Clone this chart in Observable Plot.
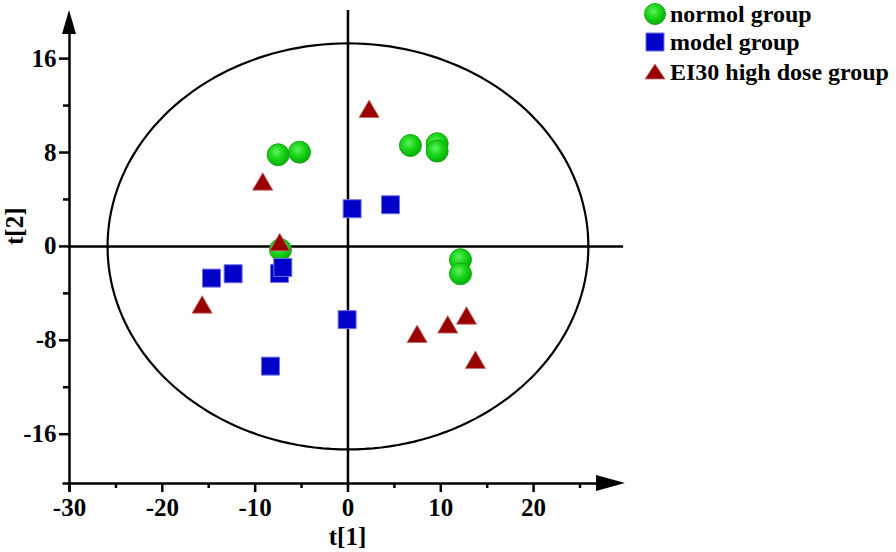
<!DOCTYPE html>
<html>
<head>
<meta charset="utf-8">
<script src="https://cdn.jsdelivr.net/npm/d3@7"></script>
<script src="https://cdn.jsdelivr.net/npm/@observablehq/plot@0.6"></script>
<style>
  html, body { margin: 0; padding: 0; background: #fff; }
  #wrap { position: relative; width: 896px; height: 552px; font-family: "Liberation Serif", "Times New Roman", serif; }
  #legend { position: absolute; left: 0; top: 0; }
</style>
</head>
<body>
<svg width="0" height="0" style="position:absolute">
  <defs>
    <radialGradient id="gg" cx="42%" cy="38%" r="62%">
      <stop offset="0" stop-color="#5cf25c"/>
      <stop offset="0.55" stop-color="#17d317"/>
      <stop offset="1" stop-color="#07ad07"/>
    </radialGradient>
  </defs>
</svg>
<div id="wrap"></div>
<script>
// ---- data ----
const groups = ["normol group", "model group", "EI30 high dose group"];

const normolX = [-7.52, -5.22, 6.73, 9.61, 9.61, -7.27, 12.12, 12.12];
const normolY = [7.81, 8.03, 8.60, 8.75, 8.12, -0.28, -1.13, -2.33];

const modelX = [0.45, 4.58, -14.70, -12.37, -7.38, -7.02, -0.09, -8.35];
const modelY = [3.21, 3.55, -2.70, -2.33, -2.30, -1.79, -6.24, -10.20];

const ei30X = [2.28, -9.18, -7.35, -15.71, 7.45, 10.75, 12.77, 13.73];
const ei30Y = [11.48, 5.29, 0.12, -5.19, -7.69, -6.89, -6.13, -9.90];

const xMajor = [-30, -20, -10, 0, 10, 20];
const xMinor = [-25, -15, -5, 5, 15, 25];
const yMajor = [-16, -8, 0, 8, 16];
const yMinor = [-12, -4, 4, 12];

const xDomain = [-30, 29.9];
const yDomain = [-20.2, 20.1];
const ellipseRadii = [25.9, 17.3]; // Hotelling T2 ellipse semi-axes (t[1], t[2])

// ---- build tables ----
const toRows = (xs, ys) => xs.map((x, i) => ({x, y: ys[i]}));
const normol = toRows(normolX, normolY);
const model = toRows(modelX, modelY);
const ei30 = toRows(ei30X, ei30Y);

const ellipse = d3.range(0, 361, 2).map(a => {
  const t = a * Math.PI / 180;
  return {x: ellipseRadii[0] * Math.cos(t), y: ellipseRadii[1] * Math.sin(t)};
});

const SW = 2.5;
const FS = 25;

function arrows(index, scales) {
  const x = scales.x, y = scales.y;
  const g = d3.create("svg:g");
  const ax = x(xDomain[1]), ay = y(yDomain[0]);
  g.append("path").attr("d", `M${ax},${ay} L${ax - 29},${ay - 8} L${ax - 29},${ay + 8} Z`).attr("fill", "black");
  const bx = x(xDomain[0]), by = y(yDomain[1]);
  g.append("path").attr("d", `M${bx},${by} L${bx - 7},${by + 24} L${bx + 7},${by + 24} Z`).attr("fill", "black");
  return g.node();
}

const chart = Plot.plot({
  width: 896,
  height: 552,
  marginLeft: 69,
  marginRight: 271,
  marginTop: 10,
  marginBottom: 69,
  style: {fontFamily: "'Liberation Serif', 'Times New Roman', serif", fontWeight: "bold", fontSize: FS + "px", color: "black", background: "white"},
  x: {domain: xDomain},
  y: {domain: yDomain},
  marks: [
    Plot.line(ellipse, {x: "x", y: "y", stroke: "black", strokeWidth: 2.2, curve: "linear-closed"}),
    Plot.ruleY([0], {x1: xDomain[0], x2: 29.7, stroke: "black", strokeWidth: SW}),
    Plot.ruleX([0], {y1: yDomain[0], y2: yDomain[1], stroke: "black", strokeWidth: SW}),
    Plot.ruleY([yDomain[0]], {x1: -30.7, x2: 27.5, stroke: "black", strokeWidth: SW}),
    Plot.ruleX([xDomain[0]], {y1: -20.9, y2: 18.5, stroke: "black", strokeWidth: SW}),
    Plot.axisX(xMajor, {tickSize: 9, tickPadding: 6, strokeWidth: SW, fontSize: FS, fontWeight: "bold", label: null, tickFormat: d => String(d)}),
    Plot.axisX(xMinor, {tickSize: 5, strokeWidth: SW, label: null, tickFormat: () => ""}),
    Plot.axisY(yMajor, {tickSize: 10, tickPadding: 3, strokeWidth: SW, fontSize: FS, fontWeight: "bold", label: null, tickFormat: d => String(d)}),
    Plot.axisY(yMinor, {tickSize: 6, strokeWidth: SW, label: null, tickFormat: () => ""}),
    arrows,
    Plot.text(["t[1]"], {frameAnchor: "bottom", dy: 61, fontSize: FS, fontWeight: "bold", fill: "black"}),
    Plot.text(["t[2]"], {frameAnchor: "left", dx: -55, dy: -2, rotate: -90, fontSize: FS, fontWeight: "bold", fill: "black"}),
    Plot.dot(normol, {x: "x", y: "y", r: 11, symbol: "circle", fill: "url(#gg)", stroke: "#19a819", strokeWidth: 1}),
    Plot.dot(model, {x: "x", y: "y", r: 10.15, symbol: "square", fill: "#0000c8", stroke: "#7070e6", strokeWidth: 1}),
    Plot.dot(ei30, {x: "x", y: "y", r: 7.5, symbol: "triangle", fill: "#990000", stroke: "#c07070", strokeWidth: 0.8})
  ]
});

const wrap = document.getElementById("wrap");
wrap.appendChild(chart);

// ---- legend (overlay, top right) ----
const legendItems = [
  {label: groups[0], shape: "circle", y: 14, ty: 21.5},
  {label: groups[1], shape: "square", y: 42, ty: 50},
  {label: groups[2], shape: "triangle", y: 72, ty: 80}
];
const lg = d3.select(wrap).append("svg")
  .attr("id", "legend").attr("width", 896).attr("height", 100)
  .style("pointer-events", "none");
legendItems.forEach(it => {
  const cx = 655;
  if (it.shape === "circle") {
    lg.append("circle").attr("cx", cx).attr("cy", it.y).attr("r", 10.5).attr("fill", "url(#gg)").attr("stroke", "#19a819");
  } else if (it.shape === "square") {
    lg.append("rect").attr("x", cx - 9).attr("y", it.y - 9).attr("width", 18).attr("height", 18).attr("fill", "#0000c8").attr("stroke", "#7070e6");
  } else {
    lg.append("path").attr("d", `M${cx},${it.y - 8} L${cx + 10},${it.y + 7} L${cx - 10},${it.y + 7} Z`).attr("fill", "#990000").attr("stroke", "#c07070").attr("stroke-width", 0.8);
  }
  lg.append("text").attr("x", 670).attr("y", it.ty)
    .attr("font-family", "'Liberation Serif', 'Times New Roman', serif")
    .attr("font-weight", "bold").attr("font-size", 24).attr("fill", "black")
    .text(it.label);
});
</script>
</body>
</html>
